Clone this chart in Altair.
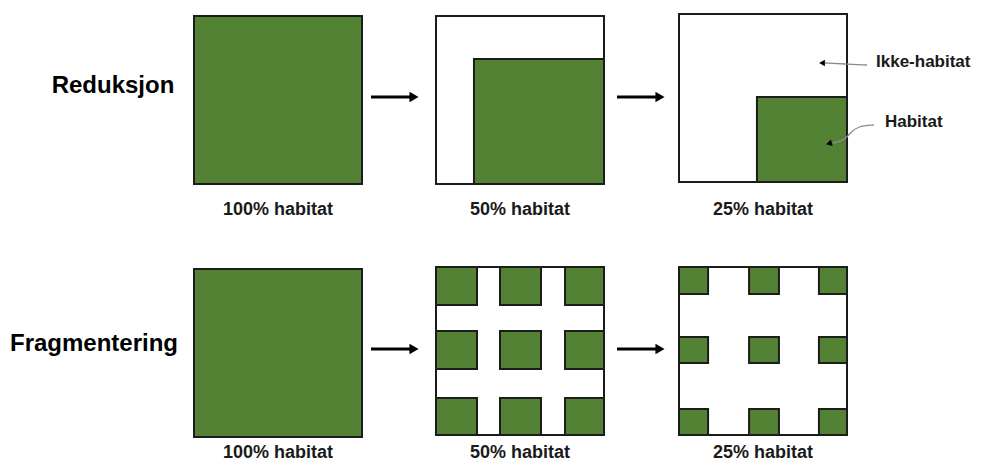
import altair as alt
import pandas as pd

# ---- data ----
row_titles = ["Reduksjon", "Fragmentering"]
row_title_x = [113, 94]
row_title_y = [86, 344]

panel_labels = ["100% habitat", "50% habitat", "25% habitat"]
panel_left = [194, 436, 679]
top_row_top = [16, 16, 14]
bottom_row_top = [269, 267, 267]
panel_size = 168
label_y = [210, 453]

# reduction: habitat rectangle as fractions of panel (x0, x1, y0, y1)
reduction_habitat = [(0.0, 1.0, 0.0, 1.0), (0.226, 1.0, 0.256, 1.0), (0.464, 1.0, 0.494, 1.0)]
# fragmentation: patch columns / rows as fractions of panel
frag_cols_50 = [(0.0, 0.244), (0.381, 0.625), (0.768, 1.0)]
frag_rows_50 = [(0.0, 0.226), (0.381, 0.607), (0.780, 1.0)]
frag_cols_25 = [(0.0, 0.173), (0.417, 0.595), (0.833, 1.0)]
frag_rows_25 = [(0.0, 0.160), (0.417, 0.571), (0.845, 1.0)]

arrow_x = [(371, 412), (617, 658)]
arrow_row_y = [97, 349]

annot_texts = ["Ikke-habitat", "Habitat"]
annot_text_x = [876, 885]
annot_text_y = [62, 122]
ikke_curve_x = [867, 845, 825]
ikke_curve_y = [65, 64, 63]
hab_curve_x = [874, 858, 850, 845, 833]
hab_curve_y = [125, 126, 133, 140, 143]

GREEN = "#548235"
EDGE = "#1c1c1c"

# ---- build tables ----
frames = []
green = []
for i in range(3):
    for r, tops in enumerate([top_row_top, bottom_row_top]):
        x0 = panel_left[i]
        y0 = tops[i]
        frames.append(dict(x=x0, x2=x0 + panel_size, y=y0, y2=y0 + panel_size))
        if r == 0:
            a, b, c, d = reduction_habitat[i]
            green.append(dict(x=x0 + a * panel_size, x2=x0 + b * panel_size,
                              y=y0 + c * panel_size, y2=y0 + d * panel_size))
        else:
            if i == 0:
                green.append(dict(x=x0, x2=x0 + panel_size, y=y0, y2=y0 + panel_size))
            else:
                cols = frag_cols_50 if i == 1 else frag_cols_25
                rws = frag_rows_50 if i == 1 else frag_rows_25
                for (ca, cb) in cols:
                    for (ra, rb) in rws:
                        green.append(dict(x=x0 + ca * panel_size, x2=x0 + cb * panel_size,
                                          y=y0 + ra * panel_size, y2=y0 + rb * panel_size))

frames_df = pd.DataFrame(frames)
green_df = pd.DataFrame(green)

labels_df = pd.DataFrame([
    dict(x=panel_left[i] + panel_size / 2, y=label_y[r], t=panel_labels[i])
    for r in range(2) for i in range(3)
])
titles_df = pd.DataFrame(dict(x=row_title_x, y=row_title_y, t=row_titles))

shafts_df = pd.DataFrame([
    dict(x=a, x2=b, y=yy) for yy in arrow_row_y for (a, b) in arrow_x
])
heads_df = pd.DataFrame([
    dict(x=b + 2, y=yy) for yy in arrow_row_y for (a, b) in arrow_x
])

curves_df = pd.concat([
    pd.DataFrame(dict(x=ikke_curve_x, y=ikke_curve_y, o=range(len(ikke_curve_x)), g="ikke")),
    pd.DataFrame(dict(x=hab_curve_x, y=hab_curve_y, o=range(len(hab_curve_x)), g="hab")),
])
annot_heads_df = pd.DataFrame(dict(x=[ikke_curve_x[-1] - 3, hab_curve_x[-1] - 4],
                                   y=[ikke_curve_y[-1], hab_curve_y[-1] + 0.5],
                                   a=[0, 345]))
annot_df = pd.DataFrame(dict(x=annot_text_x, y=annot_text_y, t=annot_texts))

W, H = 967, 454
xs = alt.Scale(domain=[8, 8 + W])
ys = alt.Scale(domain=[8, 8 + H], reverse=True)
X = lambda f="x": alt.X(f, type="quantitative", scale=xs, axis=None)
Y = lambda f="y": alt.Y(f, type="quantitative", scale=ys, axis=None)

frame_layer = alt.Chart(frames_df).mark_rect(fill="white", stroke=EDGE, strokeWidth=2).encode(
    x=X(), x2="x2", y=Y(), y2="y2")
green_layer = alt.Chart(green_df).mark_rect(fill=GREEN, stroke=EDGE, strokeWidth=2).encode(
    x=X(), x2="x2", y=Y(), y2="y2")

label_layer = alt.Chart(labels_df).mark_text(
    font="Liberation Sans", fontWeight="bold", fontSize=18, color="#1a1a1a",
    align="center", baseline="middle").encode(x=X(), y=Y(), text="t")
title_layer = alt.Chart(titles_df).mark_text(
    font="Liberation Sans", fontWeight="bold", fontSize=24, color="#000000",
    align="center", baseline="middle").encode(x=X(), y=Y(), text="t")

shaft_layer = alt.Chart(shafts_df).mark_rule(color="#000000", strokeWidth=3).encode(
    x=X(), x2="x2", y=Y())
head_layer = alt.Chart(heads_df).mark_point(
    shape="triangle-right", filled=True, color="#000000", size=110, opacity=1).encode(x=X(), y=Y())

curve_layer = alt.Chart(curves_df).mark_line(
    color="#8a8a8a", strokeWidth=1.3, interpolate="basis").encode(
    x=X(), y=Y(), order="o", detail="g")
annot_head_layer = alt.Chart(annot_heads_df).mark_point(
    shape="triangle-left", filled=True, color="#000000", size=45, opacity=1).encode(
    x=X(), y=Y(), angle=alt.Angle("a", type="quantitative", scale=None))
annot_layer = alt.Chart(annot_df).mark_text(
    font="Liberation Sans", fontWeight="bold", fontSize=17, color="#1a1a1a",
    align="left", baseline="middle").encode(x=X(), y=Y(), text="t")

chart = alt.layer(
    frame_layer, green_layer, label_layer, title_layer,
    shaft_layer, head_layer, curve_layer, annot_head_layer, annot_layer
).properties(
    width=W, height=H, padding=0, autosize=alt.AutoSizeParams(type="none"),
    background="white"
).configure_view(strokeWidth=0, stroke="transparent")

chart.save("out.html", embed_options={"renderer": "svg", "actions": False})
